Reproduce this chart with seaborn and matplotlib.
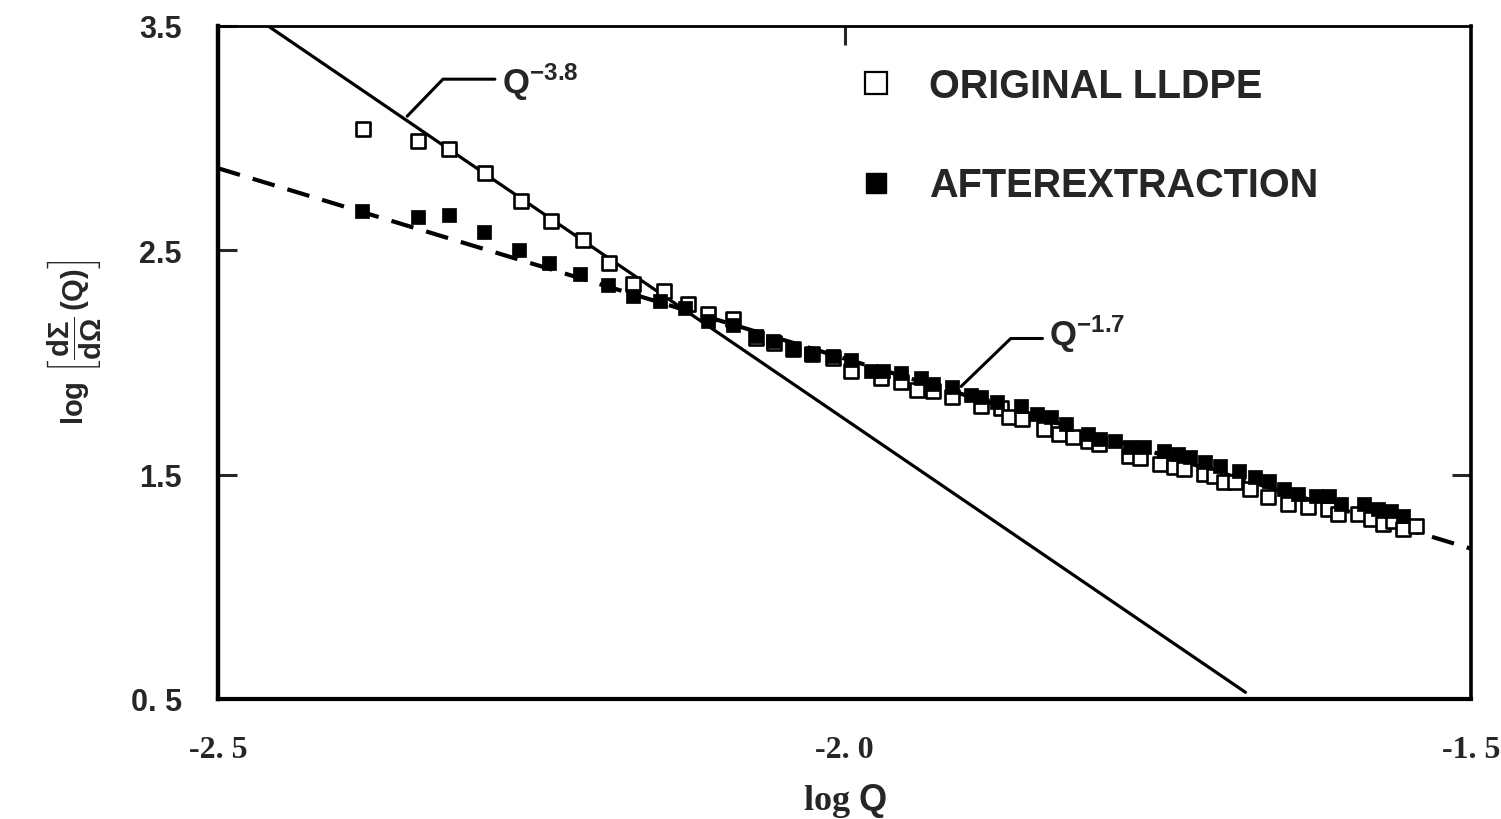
import matplotlib
matplotlib.use("Agg")
import matplotlib.pyplot as plt
import seaborn as sns
import pandas as pd
from matplotlib.lines import Line2D

# ---------------- data ----------------
orig_logq = [-2.384, -2.340, -2.316, -2.287, -2.258, -2.234, -2.209, -2.188, -2.169, -2.144,
             -2.125, -2.109, -2.089, -2.071, -2.056, -2.041, -2.026, -2.009, -1.995, -1.971,
             -1.955, -1.942, -1.929, -1.914, -1.891, -1.875, -1.869, -1.858, -1.841, -1.829,
             -1.818, -1.806, -1.797, -1.773, -1.764, -1.748, -1.737, -1.729, -1.713, -1.705,
             -1.697, -1.688, -1.676, -1.662, -1.646, -1.630, -1.614, -1.606, -1.590, -1.580,
             -1.570, -1.562, -1.554, -1.544]
orig_logi = [3.040, 2.987, 2.951, 2.844, 2.719, 2.629, 2.545, 2.442, 2.348, 2.317,
             2.259, 2.214, 2.196, 2.107, 2.085, 2.058, 2.036, 2.018, 1.964, 1.929,
             1.915, 1.879, 1.871, 1.848, 1.804, 1.795, 1.759, 1.750, 1.705, 1.683,
             1.670, 1.652, 1.638, 1.585, 1.576, 1.549, 1.536, 1.527, 1.504, 1.496,
             1.469, 1.469, 1.437, 1.402, 1.371, 1.357, 1.348, 1.326, 1.326, 1.304,
             1.281, 1.295, 1.259, 1.272]

extr_logq = [-2.385, -2.340, -2.316, -2.288, -2.260, -2.236, -2.211, -2.189, -2.169, -2.147,
             -2.127, -2.109, -2.089, -2.071, -2.057, -2.041, -2.027, -2.009, -1.995, -1.979,
             -1.969, -1.955, -1.939, -1.929, -1.914, -1.899, -1.891, -1.878, -1.859, -1.846,
             -1.835, -1.823, -1.806, -1.796, -1.784, -1.772, -1.761, -1.745, -1.734, -1.724,
             -1.712, -1.700, -1.685, -1.672, -1.661, -1.649, -1.638, -1.624, -1.613, -1.604,
             -1.585, -1.574, -1.564, -1.554]
extr_logi = [2.674, 2.647, 2.656, 2.580, 2.500, 2.442, 2.393, 2.344, 2.295, 2.272,
             2.241, 2.183, 2.165, 2.116, 2.094, 2.062, 2.040, 2.027, 2.009, 1.964,
             1.964, 1.951, 1.929, 1.906, 1.893, 1.853, 1.848, 1.826, 1.804, 1.772,
             1.759, 1.728, 1.683, 1.661, 1.652, 1.625, 1.625, 1.607, 1.594, 1.580,
             1.558, 1.540, 1.518, 1.491, 1.473, 1.437, 1.415, 1.406, 1.406, 1.371,
             1.371, 1.348, 1.339, 1.317]

# power-law guide lines (end points)
steep_logq = [-2.46, -1.68]     # Q^-3.8
steep_logi = [3.50, 0.53]
shallow_logq = [-2.50, -1.50]   # Q^-1.7
shallow_logi = [2.866, 1.17]

x_ticks = [-2.5, -2.0, -1.5]
x_ticklabels = ["-2. 5", "-2. 0", "-1. 5"]
y_ticks = [3.5, 2.5, 1.5, 0.5]
y_ticklabels = ["3.5", "2.5", "1.5", "0. 5"]

series_names = ["ORIGINAL LLDPE", "AFTEREXTRACTION"]

# ---------------- style ----------------
sns.set_style("white")
plt.rcParams["font.family"] = ["Liberation Sans", "DejaVu Sans"]
plt.rcParams["mathtext.fontset"] = "custom"
plt.rcParams["mathtext.rm"] = "Liberation Sans"
plt.rcParams["mathtext.bf"] = "Liberation Sans:bold"
plt.rcParams["mathtext.it"] = "Liberation Sans:italic"

W, H = 1501, 820
fig = plt.figure(figsize=(W / 100, H / 100), dpi=100)
ax = fig.add_axes([218 / W, 1 - 700 / H, (1471 - 218) / W, (700 - 27) / H])

df_o = pd.DataFrame({"logq": orig_logq, "logi": orig_logi})
df_e = pd.DataFrame({"logq": extr_logq, "logi": extr_logi})

sns.lineplot(x=steep_logq, y=steep_logi, ax=ax, color="black", lw=2.3, zorder=2)
sns.lineplot(x=shallow_logq, y=shallow_logi, ax=ax, color="black", lw=3.0,
             linestyle=(0, (5.5, 3.2)), zorder=2)

sns.scatterplot(data=df_o, x="logq", y="logi", ax=ax, marker="s", s=105,
                facecolor="white", edgecolor="black", linewidth=1.9, zorder=3)
sns.scatterplot(data=df_e, x="logq", y="logi", ax=ax, marker="s", s=115,
                color="black", edgecolor="black", linewidth=0.5, zorder=4)

ax.set_xlim(-2.5, -1.5)
ax.set_ylim(0.5, 3.5)
ax.set_xticks(x_ticks)
ax.set_xticklabels(x_ticklabels, family="Liberation Serif", fontweight="bold", fontsize=23)
ax.set_yticks(y_ticks)
ax.set_yticklabels(y_ticklabels, fontweight="bold", fontsize=22)
ax.tick_params(axis="x", length=0, pad=26)
ax.tick_params(axis="y", direction="in", length=14, width=2.2, pad=26, left=True)
ax.set_xlabel(r"log $\mathbf{Q}$", family="Liberation Serif", fontweight="bold", fontsize=26)
ax.xaxis.set_label_coords(0.5, -0.122)
ax.set_ylabel("")

for side, lw in [("left", 3.2), ("bottom", 3.0), ("right", 2.6), ("top", 2.0)]:
    ax.spines[side].set_visible(True)
    ax.spines[side].set_linewidth(lw)
    ax.spines[side].set_color("black")

# extra inner ticks on top and right frame
sec_top = ax.secondary_xaxis("top")
sec_top.set_xticks([-2.0])
sec_top.set_xticklabels([])
sec_top.tick_params(direction="in", length=14, width=2.2)
sec_top.spines["top"].set_visible(False)
sec_right = ax.secondary_yaxis("right")
sec_right.set_yticks([1.5])
sec_right.set_yticklabels([])
sec_right.tick_params(direction="in", length=14, width=2.2)
sec_right.spines["right"].set_visible(False)

# y label
fig.text(75 / W, 1 - 342 / H,
         r"$\mathbf{log}\ \left[\dfrac{\mathbf{d\Sigma}}{\mathbf{d\Omega}}\,\mathbf{(Q)}\right]$",
         rotation=90, ha="center", va="center", fontsize=21)

# annotations with leader lines
ax.text(-2.273, 3.201, r"$\mathbf{Q^{-3.8}}$", fontsize=25, ha="left", va="baseline", zorder=5)
ax.annotate("", xy=(-2.349, 3.098), xytext=(-2.279, 3.263),
            arrowprops=dict(arrowstyle="-", lw=2.2, color="black", shrinkA=0, shrinkB=0,
                            connectionstyle="angle,angleA=0,angleB=46,rad=0"))
ax.text(-1.837, 2.080, r"$\mathbf{Q^{-1.7}}$", fontsize=25, ha="left", va="baseline", zorder=5)
ax.annotate("", xy=(-1.907, 1.893), xytext=(-1.842, 2.107),
            arrowprops=dict(arrowstyle="-", lw=2.2, color="black", shrinkA=0, shrinkB=0,
                            connectionstyle="angle,angleA=0,angleB=44,rad=0"))

# legend
handles = [
    Line2D([], [], ls="none", marker="s", markersize=16, markerfacecolor="white",
           markeredgecolor="black", markeredgewidth=1.6),
    Line2D([], [], ls="none", marker="s", markersize=15, markerfacecolor="black",
           markeredgecolor="black"),
]
leg = ax.legend(handles, series_names, loc="upper left",
                bbox_to_anchor=(856 / W, 1 - 68 / H), bbox_transform=fig.transFigure,
                frameon=False, borderpad=0, borderaxespad=0, handlelength=1.0,
                handletextpad=0.85, labelspacing=1.55,
                prop={"family": "Liberation Sans", "weight": "bold", "size": 28.5})

fig.savefig("out.png", dpi=100)
